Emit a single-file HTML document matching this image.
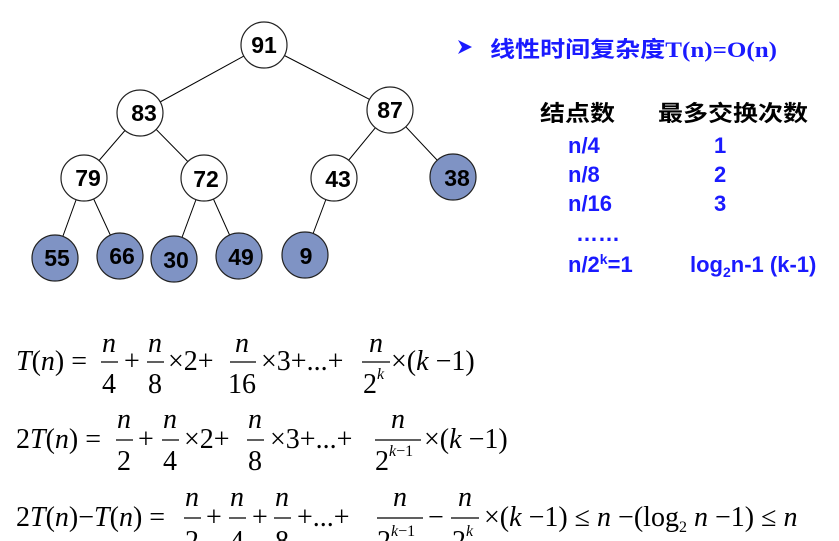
<!DOCTYPE html>
<html><head><meta charset="utf-8"><style>
html,body{margin:0;padding:0;background:#fff;}
svg{display:block;}
.n{font-family:"Liberation Sans",sans-serif;font-weight:bold;font-size:23px;fill:#000;text-anchor:middle;}
.b{font-family:"Liberation Sans","Noto Sans CJK SC",sans-serif;font-weight:bold;fill:#1a1aff;font-size:22px;}
.k{font-family:"Liberation Sans","Noto Sans CJK SC",sans-serif;fill:#000;font-size:22px;font-weight:bold;}
.m{font-family:"Liberation Serif",serif;font-size:28px;fill:#000;}
.i{font-style:italic;}
.c{text-anchor:middle;}
</style></head><body>
<svg width="839" height="541" viewBox="0 0 839 541">
<g stroke="#000" stroke-width="1">
<line x1="264" y1="45" x2="140" y2="113"/><line x1="264" y1="45" x2="390" y2="110"/>
<line x1="140" y1="113" x2="84" y2="178"/><line x1="140" y1="113" x2="204" y2="178"/>
<line x1="390" y1="110" x2="334" y2="178"/><line x1="390" y1="110" x2="453" y2="177"/>
<line x1="84" y1="178" x2="55" y2="258"/><line x1="84" y1="178" x2="120" y2="256"/>
<line x1="204" y1="178" x2="174" y2="259"/><line x1="204" y1="178" x2="239" y2="256"/>
<line x1="334" y1="178" x2="305" y2="255"/>
</g>
<g stroke="#222" stroke-width="1.2">
<circle cx="264" cy="45" r="23" fill="#fff"/>
<circle cx="140" cy="113" r="23" fill="#fff"/>
<circle cx="390" cy="110" r="23" fill="#fff"/>
<circle cx="84" cy="178" r="23" fill="#fff"/>
<circle cx="204" cy="178" r="23" fill="#fff"/>
<circle cx="334" cy="178" r="23" fill="#fff"/>
<circle cx="453" cy="177" r="23" fill="#7f93c4"/>
<circle cx="55" cy="258" r="23" fill="#7f93c4"/>
<circle cx="120" cy="256" r="23" fill="#7f93c4"/>
<circle cx="174" cy="259" r="23" fill="#7f93c4"/>
<circle cx="239" cy="256" r="23" fill="#7f93c4"/>
<circle cx="305" cy="255" r="23" fill="#7f93c4"/>
</g>
<text class="n" x="264" y="53">91</text>
<text class="n" x="144" y="121">83</text>
<text class="n" x="390" y="118">87</text>
<text class="n" x="88" y="186">79</text>
<text class="n" x="206" y="187">72</text>
<text class="n" x="338" y="187">43</text>
<text class="n" x="457" y="186">38</text>
<text class="n" x="57" y="266">55</text>
<text class="n" x="122" y="264">66</text>
<text class="n" x="176" y="268">30</text>
<text class="n" x="241" y="265">49</text>
<text class="n" x="306" y="264">9</text>

<polygon points="458,40 472,47 458,54 462,47" fill="#1a1aff"/>
<text class="b" x="490" y="57" textLength="287" lengthAdjust="spacingAndGlyphs">线性时间复杂度<tspan font-family="Liberation Serif">T(n)=O(n)</tspan></text>
<text class="k" x="540" y="121" textLength="75" lengthAdjust="spacingAndGlyphs">结点数</text>
<text class="k" x="658" y="121" textLength="150" lengthAdjust="spacingAndGlyphs">最多交换次数</text>
<text class="b" x="568" y="153">n/4</text>
<text class="b" x="568" y="182">n/8</text>
<text class="b" x="568" y="211">n/16</text>
<text class="b" x="576" y="241">……</text>
<text class="b" x="568" y="272">n/2<tspan font-size="14" dy="-8">k</tspan><tspan dy="8">=1</tspan></text>
<text class="b" x="714" y="153">1</text>
<text class="b" x="714" y="182">2</text>
<text class="b" x="714" y="211">3</text>
<text class="b" x="690" y="272">log<tspan font-size="14" dy="5">2</tspan><tspan dy="-5">n-1 (k-1)</tspan></text>

<g class="m">
<text x="16" y="370"><tspan class="i">T</tspan>(<tspan class="i">n</tspan>) =</text>
<text class="i c" x="109" y="352">n</text><text class="c" x="109" y="393">4</text>
<text x="124" y="370">+</text>
<text class="i c" x="155" y="352">n</text><text class="c" x="155" y="393">8</text>
<text x="168" y="370">×2+</text>
<text class="i c" x="242" y="352">n</text><text class="c" x="242" y="393">16</text>
<text x="261" y="370">×3+...+</text>
<text class="i c" x="376" y="352">n</text><text x="363" y="393">2<tspan font-size="16" class="i" dy="-14">k</tspan></text>
<text x="391" y="370">×(<tspan class="i">k</tspan> −1)</text>
<text x="16" y="448">2<tspan class="i">T</tspan>(<tspan class="i">n</tspan>) =</text>
<text class="i c" x="124" y="428">n</text><text class="c" x="124" y="470">2</text>
<text x="138" y="448">+</text>
<text class="i c" x="170" y="428">n</text><text class="c" x="170" y="470">4</text>
<text x="184" y="448">×2+</text>
<text class="i c" x="255" y="428">n</text><text class="c" x="255" y="470">8</text>
<text x="270" y="448">×3+...+</text>
<text class="i c" x="398" y="428">n</text><text x="375" y="470">2<tspan font-size="16" class="i" dy="-14">k</tspan><tspan font-size="16">−1</tspan></text>
<text x="424" y="448">×(<tspan class="i">k</tspan> −1)</text>
<text x="16" y="526">2<tspan class="i">T</tspan>(<tspan class="i">n</tspan>)−<tspan class="i">T</tspan>(<tspan class="i">n</tspan>) =</text>
<text class="i c" x="192" y="506">n</text><text class="c" x="192" y="550">2</text>
<text x="206" y="526">+</text>
<text class="i c" x="237" y="506">n</text><text class="c" x="237" y="550">4</text>
<text x="252" y="526">+</text>
<text class="i c" x="282" y="506">n</text><text class="c" x="282" y="550">8</text>
<text x="297" y="526">+...+</text>
<text class="i c" x="400" y="506">n</text><text x="377" y="550">2<tspan font-size="16" class="i" dy="-14">k</tspan><tspan font-size="16">−1</tspan></text>
<text x="428" y="526">−</text>
<text class="i c" x="465" y="506">n</text><text x="452" y="550">2<tspan font-size="16" class="i" dy="-14">k</tspan></text>
<text x="484" y="526">×(<tspan class="i">k</tspan> −1) ≤ <tspan class="i">n</tspan> −(log<tspan font-size="16" dy="6">2</tspan><tspan dy="-6"> </tspan><tspan class="i">n</tspan> −1) ≤ <tspan class="i">n</tspan></text>
</g>
<g stroke="#000" stroke-width="1.2">
<line x1="101" y1="362" x2="118" y2="362"/>
<line x1="147" y1="362" x2="164" y2="362"/>
<line x1="230" y1="362" x2="256" y2="362"/>
<line x1="362" y1="362" x2="390" y2="362"/>
<line x1="116" y1="440" x2="133" y2="440"/>
<line x1="162" y1="440" x2="179" y2="440"/>
<line x1="247" y1="440" x2="264" y2="440"/>
<line x1="375" y1="440" x2="421" y2="440"/>
<line x1="184" y1="518" x2="201" y2="518"/>
<line x1="229" y1="518" x2="246" y2="518"/>
<line x1="274" y1="518" x2="291" y2="518"/>
<line x1="377" y1="518" x2="423" y2="518"/>
<line x1="451" y1="518" x2="479" y2="518"/>
</g>
</svg>
</body></html>
